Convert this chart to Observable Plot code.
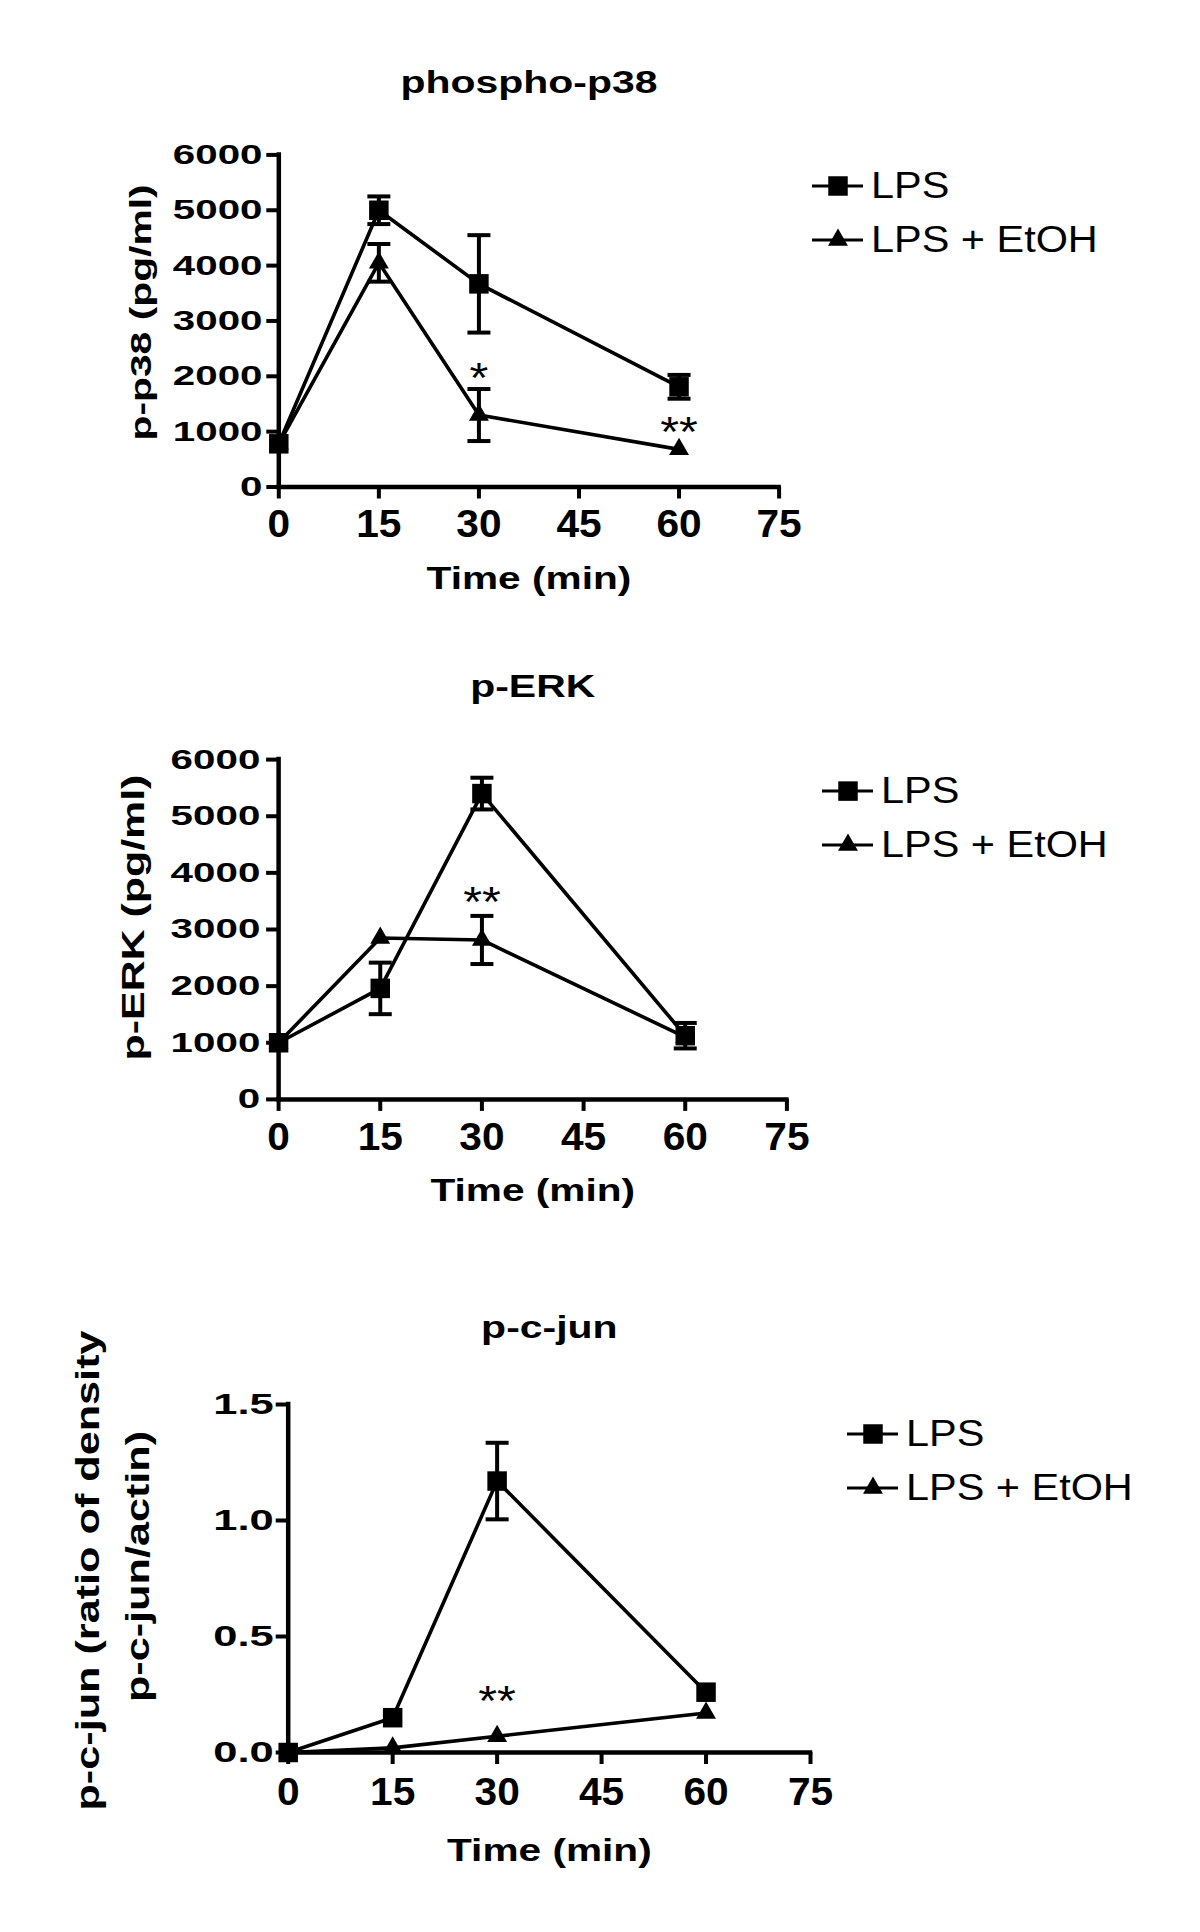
<!DOCTYPE html>
<html>
<head>
<meta charset="utf-8">
<script src="https://cdn.jsdelivr.net/npm/d3@7"></script>
<script src="https://cdn.jsdelivr.net/npm/@observablehq/plot@0.6"></script>
<style>
  body { margin: 0; background: #fff; }
  #chart { width: 1200px; }
  #chart svg { display: block; }
</style>
</head>
<body>
<div id="chart"></div>
<script>
// ---------------- data ----------------
const times = [0, 15, 30, 60];
const seriesNames = ["LPS", "LPS + EtOH"];
const xTicks = [0, 15, 30, 45, 60, 75];
const yTicksPg = [0, 1000, 2000, 3000, 4000, 5000, 6000];
const yTicksRatio = [0, 0.5, 1.0, 1.5];
const titles = ["phospho-p38", "p-ERK", "p-c-jun"];
const yLabelP38 = ["p-p38 (pg/ml)"];
const yLabelERK = ["p-ERK (pg/ml)"];
const yLabelCjun = ["p-c-jun (ratio of density", "p-c-jun/actin)"];
const xLabel = "Time (min)";

// phospho-p38 (pg/ml)
const p38LPS = [780, 5000, 3670, 1810];
const p38LPSErr = [0, 250, 880, 215];
const p38EtOH = [780, 4050, 1300, 680];
const p38EtOHErr = [0, 340, 470, 0];
const p38StarTimes = [30, 60];
const p38StarValues = [2045, 1073];
const p38StarLabels = ["*", "**"];

// p-ERK (pg/ml)
const erkLPS = [1000, 1960, 5400, 1125];
const erkLPSErr = [0, 455, 280, 225];
const erkEtOH = [1000, 2850, 2815, 1100];
const erkEtOHErr = [0, 0, 425, 0];
const erkStarTimes = [30];
const erkStarValues = [3560];
const erkStarLabels = ["**"];

// p-c-jun (ratio of density p-c-jun/actin)
const cjunLPS = [0, 0.15, 1.17, 0.26];
const cjunLPSErr = [0, 0, 0.165, 0];
const cjunEtOH = [0, 0.02, 0.07, 0.17];
const cjunEtOHErr = [0, 0, 0, 0];
const cjunStarTimes = [30];
const cjunStarValues = [0.238];
const cjunStarLabels = ["**"];

// ---------------- helpers ----------------
const FONT = "Arial, 'Liberation Sans', Helvetica, sans-serif";
const SQUARE_R = 11;
const TRI_R = 7.4;
const capSymbol = {
  draw(ctx, size) {
    const r = Math.sqrt(size / Math.PI);
    ctx.moveTo(-r, 0);
    ctx.lineTo(r, 0);
  }
};

function errMarks(vals, errs) {
  const idx = times.map((_, i) => i).filter(i => errs[i] > 0);
  return [
    Plot.ruleX(idx, {x: i => times[i], y1: i => vals[i] - errs[i], y2: i => vals[i] + errs[i], stroke: "black", strokeWidth: 4}),
    Plot.dot(idx, {x: i => times[i], y: i => vals[i] + errs[i], symbol: capSymbol, r: 11.5, stroke: "black", strokeWidth: 4, fill: "none"}),
    Plot.dot(idx, {x: i => times[i], y: i => vals[i] - errs[i], symbol: capSymbol, r: 11.5, stroke: "black", strokeWidth: 4, fill: "none"})
  ];
}

function seriesMarks(vals, errs, symbol, r) {
  return [
    Plot.line(times, {x: times, y: vals, stroke: "black", strokeWidth: 3.6}),
    ...errMarks(vals, errs),
    Plot.dot(times, {x: times, y: vals, symbol, r, fill: "black", stroke: "none"})
  ];
}

function appendScale(node, s) {
  const tr = node.getAttribute("transform") || "";
  node.setAttribute("transform", `${tr} scale(${s},1)`);
}

function stretchAxisText(svg, label, s) {
  d3.select(svg).selectAll(`g[aria-label="${label}"] text`).each(function () { appendScale(this, s); });
}

function stretchByContent(svg, strings, s) {
  d3.select(svg).selectAll("text").each(function () {
    const g = this.parentNode;
    const al = g && g.getAttribute && g.getAttribute("aria-label");
    if (al && al.indexOf("axis") >= 0) return;
    if (strings.includes(this.textContent)) appendScale(this, s);
  });
}

function addLegend(svg, x0, cy0, gap) {
  const g = d3.select(svg).append("g")
    .attr("aria-label", "legend")
    .attr("font-family", FONT)
    .attr("font-size", 37)
    .attr("font-weight", "normal")
    .attr("text-anchor", "start")
    .attr("fill", "black");
  const syms = [d3.symbolSquare, d3.symbolTriangle];
  const rs = [SQUARE_R, TRI_R];
  seriesNames.forEach((name, i) => {
    const cy = cy0 + i * gap;
    g.append("line")
      .attr("x1", x0).attr("x2", x0 + 51)
      .attr("y1", cy).attr("y2", cy)
      .attr("stroke", "black").attr("stroke-width", 3);
    g.append("path")
      .attr("d", d3.symbol(syms[i], Math.PI * rs[i] * rs[i])())
      .attr("transform", `translate(${x0 + 26},${cy})`);
    g.append("text")
      .attr("text-anchor", "start")
      .attr("transform", `translate(${x0 + 59},${cy + 12}) scale(1.12,1)`)
      .text(name);
  });
}

function makePanel(c) {
  const [mt, mr, mb, ml] = c.margins;
  const marks = [
    Plot.ruleY([0], {stroke: "black", strokeWidth: 4.5, strokeLinecap: "square"}),
    Plot.ruleX([0], {stroke: "black", strokeWidth: 4.5, strokeLinecap: "square"}),
    Plot.axisX({ticks: xTicks, tickSize: 12, tickPadding: c.xTickPad, tickFormat: d => String(d),
      strokeWidth: 4, fontSize: 38, fontWeight: "bold", label: null}),
    Plot.axisY({ticks: c.yTicks, tickSize: 12, tickPadding: c.yTickPad, tickFormat: c.yFmt,
      strokeWidth: 4, fontSize: c.yTickFont, fontWeight: "bold", label: null}),
    ...seriesMarks(c.etoh, c.etohErr, "triangle", TRI_R),
    ...seriesMarks(c.lps, c.lpsErr, "square", SQUARE_R),
    Plot.text(c.starL, {x: c.starT, y: c.starV, text: c.starL, fontSize: 42, lineAnchor: "bottom",
      dy: 18, fill: "black"}),
    Plot.text([c.title], {frameAnchor: "top", text: d => d, dy: c.titleDy, lineAnchor: "bottom",
      fontSize: 32, fontWeight: "bold", fill: "black"}),
    Plot.text([xLabel], {frameAnchor: "bottom", text: d => d, dy: c.xlabelDy, lineAnchor: "bottom",
      fontSize: 32, fontWeight: "bold", fill: "black"}),
    ...c.ylabels.map((yl, k) => Plot.text([yl], {frameAnchor: "left", text: d => d, rotate: -90,
      dx: c.ylabelDx[k], dy: c.ylabelDy[k], lineAnchor: "bottom", textAnchor: "middle",
      fontSize: c.ylabelFont, fontWeight: "bold", fill: "black"}))
  ];
  const svg = Plot.plot({
    width: 1200,
    height: c.height,
    marginTop: mt, marginRight: mr, marginBottom: mb, marginLeft: ml,
    x: {type: "linear", domain: [0, 75]},
    y: {type: "linear", domain: c.yDomain},
    style: {fontFamily: FONT, background: "white", color: "black", overflow: "visible"},
    marks
  });
  d3.select(svg).selectAll('g[aria-label="x-axis tick"], g[aria-label="y-axis tick"]')
    .attr("stroke-width", 4).attr("stroke", "black");
  stretchAxisText(svg, "x-axis tick label", 1.07);
  stretchAxisText(svg, "y-axis tick label", c.yTickStretch);
  stretchByContent(svg, titles, 1.28);
  stretchByContent(svg, [xLabel], 1.27);
  stretchByContent(svg, c.ylabels, c.ylabelStretch);
  stretchByContent(svg, c.starL, 1.15);
  addLegend(svg, 1200 - mr + c.legendDx, mt + c.legendDy, 54);
  return svg;
}

const chart = document.getElementById("chart");

chart.appendChild(makePanel({
  height: 620, margins: [154.4, 421.4, 133.5, 278.3],
  yDomain: [0, 6000], yTicks: yTicksPg, yFmt: d => String(d),
  yTickFont: 28, yTickStretch: 1.44, yTickPad: 4.3, xTickPad: 11.5,
  lps: p38LPS, lpsErr: p38LPSErr, etoh: p38EtOH, etohErr: p38EtOHErr,
  starT: p38StarTimes, starV: p38StarValues, starL: p38StarLabels,
  title: titles[0], titleDy: -61.4, xlabelDy: 102,
  ylabels: yLabelP38, ylabelDx: [-127.9], ylabelDy: [-8.5], ylabelFont: 30, ylabelStretch: 1.36,
  legendDx: 33.4, legendDy: 31.6
}));

chart.appendChild(makePanel({
  height: 620, margins: [139.1, 413.6, 141.1, 278.1],
  yDomain: [0, 6000], yTicks: yTicksPg, yFmt: d => String(d),
  yTickFont: 28, yTickStretch: 1.44, yTickPad: 6.3, xTickPad: 11.5,
  lps: erkLPS, lpsErr: erkLPSErr, etoh: erkEtOH, etohErr: erkEtOHErr,
  starT: erkStarTimes, starV: erkStarValues, starL: erkStarLabels,
  title: titles[1], titleDy: -62.5, xlabelDy: 102,
  ylabels: yLabelERK, ylabelDx: [-134.6], ylabelDy: [-12], ylabelFont: 32, ylabelStretch: 1.34,
  legendDx: 35.6, legendDy: 32
}));

chart.appendChild(makePanel({
  height: 692, margins: [164, 390, 180, 287.7],
  yDomain: [0, 1.5], yTicks: yTicksRatio, yFmt: d3.format(".1f"),
  yTickFont: 30, yTickStretch: 1.45, yTickPad: 2.4, xTickPad: 14,
  lps: cjunLPS, lpsErr: cjunLPSErr, etoh: cjunEtOH, etohErr: cjunEtOHErr,
  starT: cjunStarTimes, starV: cjunStarValues, starL: cjunStarLabels,
  title: titles[2], titleDy: -67, xlabelDy: 108,
  ylabels: yLabelCjun, ylabelDx: [-189.7, -139.7], ylabelDy: [-8, -12], ylabelFont: 33, ylabelStretch: 1.31,
  legendDx: 37, legendDy: 30
}));
</script>
</body>
</html>
